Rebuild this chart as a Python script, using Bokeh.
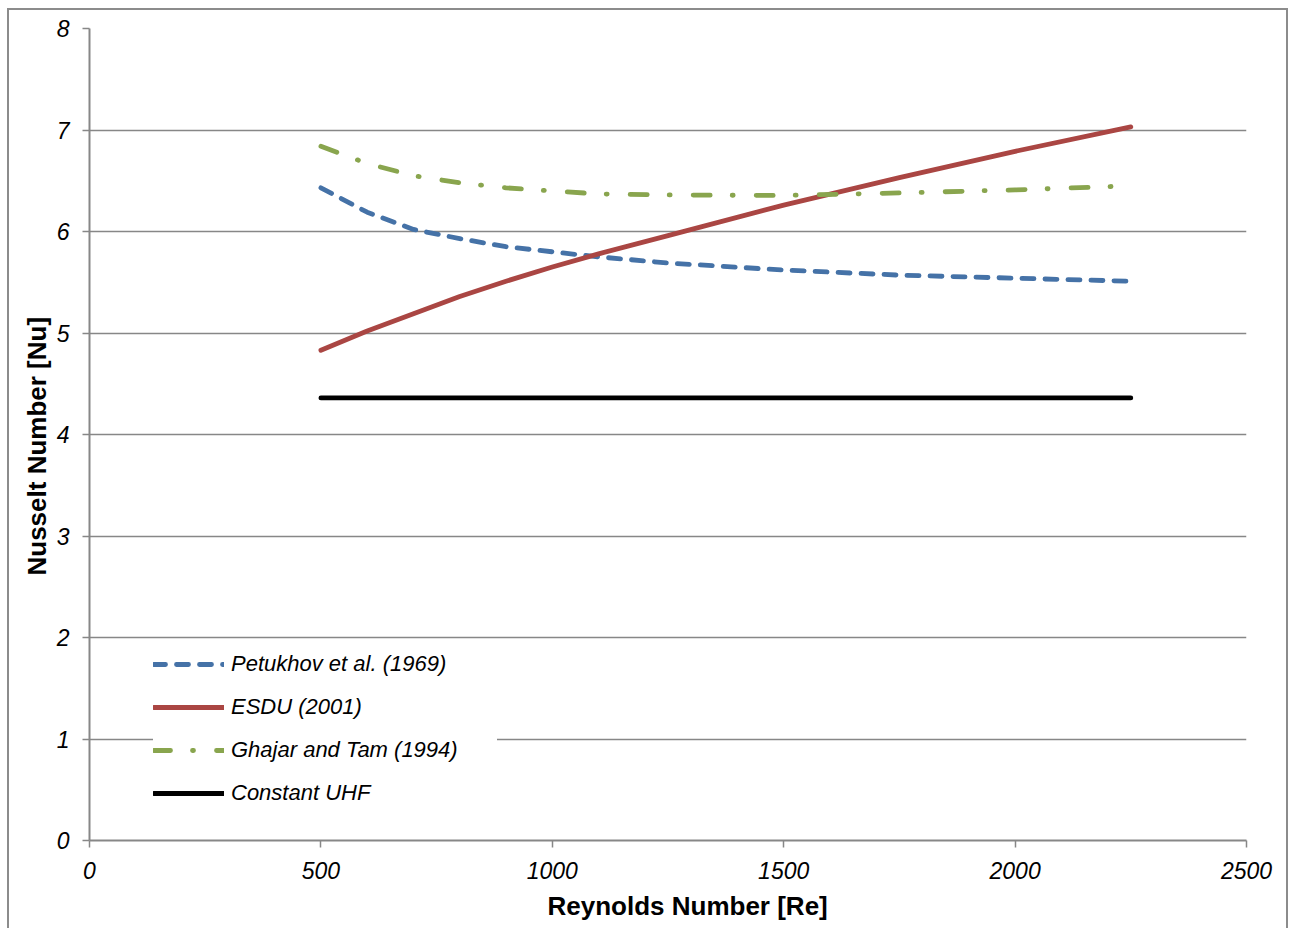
from bokeh.plotting import figure
from bokeh.models import Range1d, FixedTicker, Legend, LegendItem, Title
from bokeh.embed import file_html
from bokeh.resources import INLINE

# ---- data ----
re_vals = [500, 600, 700, 800, 900, 1000, 1100, 1250, 1500, 1750, 2000, 2250]
petukhov = [6.43, 6.19, 6.02, 5.93, 5.85, 5.80, 5.75, 5.69, 5.62, 5.57, 5.54, 5.51]
esdu = [4.83, 5.02, 5.19, 5.36, 5.51, 5.65, 5.78, 5.96, 6.26, 6.53, 6.79, 7.03]
ghajar = [6.84, 6.67, 6.55, 6.48, 6.43, 6.40, 6.37, 6.36, 6.355, 6.38, 6.41, 6.45]
uhf_re = [500, 2250]
uhf = [4.36, 4.36]

series_names = ["Petukhov et al. (1969)", "ESDU (2001)", "Ghajar and Tam (1994)", "Constant UHF"]
x_title = "Reynolds Number [Re]"
y_title = "Nusselt Number [Nu]"
x_ticks = [0, 500, 1000, 1500, 2000, 2500]
y_ticks = [0, 1, 2, 3, 4, 5, 6, 7, 8]

FONT = "Liberation Sans"
GRID = "#878787"
BORDER = "#8c8c8c"

p = figure(width=1289, height=928, output_backend="svg", toolbar_location=None,
           x_range=Range1d(0, 2500), y_range=Range1d(0, 8),
           min_border_left=89, min_border_right=43, min_border_top=28, min_border_bottom=88)
# outer chart-area border (left, top, right) drawn as CSS backgrounds of the host element
grad = f"linear-gradient({BORDER},{BORDER})"
p.styles = {
    "background-color": "white",
    "background-image": f"{grad}, {grad}, {grad}",
    "background-size": "2px 100%, 1280px 2px, 2px 100%",
    "background-position": "7px 8px, 7px 8px, 1286px 8px",
    "background-repeat": "no-repeat",
}
p.outline_line_color = None
p.background_fill_color = "white"
p.border_fill_color = None

p.xgrid.visible = False
p.ygrid.ticker = FixedTicker(ticks=y_ticks)
p.ygrid.grid_line_color = GRID
p.ygrid.grid_line_width = 1.5

for ax in (p.xaxis[0], p.yaxis[0]):
    ax.axis_line_color = GRID
    ax.axis_line_width = 2
    ax.major_tick_line_color = GRID
    ax.major_tick_line_width = 1.5
    ax.major_tick_in = 0
    ax.major_tick_out = 7
    ax.minor_tick_line_color = None
    ax.major_label_text_font = FONT
    ax.major_label_text_font_style = "italic"
    ax.major_label_text_font_size = "23px"
    ax.major_label_text_color = "black"

p.xaxis.ticker = FixedTicker(ticks=x_ticks)
p.yaxis.ticker = FixedTicker(ticks=y_ticks)
p.xaxis.major_label_standoff = 14
p.yaxis.major_label_standoff = 13

p.add_layout(Title(text=x_title, align="left", offset=458, standoff=14,
                   text_font=FONT, text_font_style="bold", text_font_size="26px",
                   text_color="black"), "below")
p.add_layout(Title(text=y_title, align="left", offset=265, standoff=4,
                   text_font=FONT, text_font_style="bold", text_font_size="26px",
                   text_color="black"), "left")

LW = 4.8
r1 = p.line(re_vals, petukhov, line_color="#4572A7", line_width=LW, line_dash="12 11",
            line_cap="round", line_join="round")
r2 = p.line(re_vals, esdu, line_color="#AA4643", line_width=LW,
            line_cap="round", line_join="round")
r3 = p.line(re_vals, ghajar, line_color="#89A54E", line_width=LW, line_dash="17 22 1 23",
            line_cap="round", line_join="round")
r4 = p.line(uhf_re, uhf, line_color="black", line_width=LW,
            line_cap="round", line_join="round")

legend = Legend(items=[LegendItem(label=series_names[0], renderers=[r1]),
                       LegendItem(label=series_names[1], renderers=[r2]),
                       LegendItem(label=series_names[2], renderers=[r3]),
                       LegendItem(label=series_names[3], renderers=[r4])],
                location=(64, 34), border_line_color=None,
                background_fill_color="white", background_fill_alpha=1.0,
                padding=0, spacing=17, margin=0,
                glyph_width=71, glyph_height=24, label_standoff=7, label_width=266,
                label_text_font=FONT, label_text_font_style="italic",
                label_text_font_size="22px", label_text_color="black")
p.add_layout(legend)

open("out.html", "w").write(file_html(p, INLINE))
